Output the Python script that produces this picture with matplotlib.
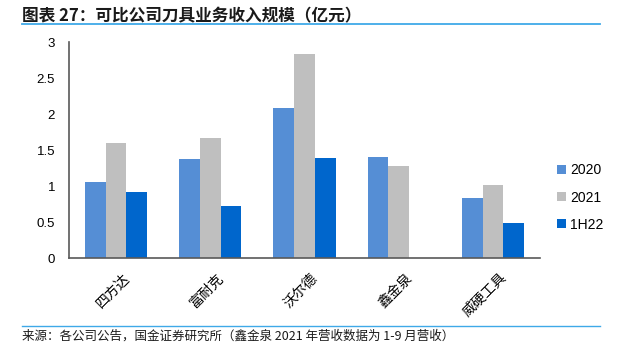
import numpy as np
import matplotlib.pyplot as plt
import matplotlib.transforms as mtransforms
from matplotlib.lines import Line2D

plt.rcParams['font.family'] = ['Noto Sans CJK SC', 'DejaVu Sans']

# 数据（亿元）
companies = ['四方达', '富耐克', '沃尔德', '鑫金泉', '威硬工具']
series_names = ['2020', '2021', '1H22']
rev_2020 = [1.05, 1.37, 2.09, 1.40, 0.83]
rev_2021 = [1.60, 1.67, 2.83, 1.28, 1.01]
rev_1h22 = [0.92, 0.73, 1.39, np.nan, 0.49]
colors = ['#558ED5', '#BFBFBF', '#0066CC']

fig = plt.figure(figsize=(6.19, 3.56), dpi=100)
ax = fig.add_axes([0.1115, 0.275, 0.761, 0.607])

x = np.arange(len(companies))
w = 0.22
for i, (vals, name) in enumerate(zip([rev_2020, rev_2021, rev_1h22], series_names)):
    ax.bar(x + (i - 1) * w, vals, width=w, color=colors[i], label=name)

ax.set_xlim(-0.5, len(companies) - 0.5)
ax.set_ylim(0, 3)
ax.set_yticks(np.arange(0, 3.01, 0.5))
ax.set_yticklabels(['0', '0.5', '1', '1.5', '2', '2.5', '3'], fontsize=9.5, family='Liberation Sans')
ax.set_xticks(x)
ax.set_xticklabels(companies, rotation=45, ha='right', rotation_mode='anchor', fontsize=10)
ax.tick_params(axis='y', length=0, pad=10)
ax.tick_params(axis='x', length=0, pad=9)
shift = mtransforms.ScaledTranslation(6 / 100, 0, fig.dpi_scale_trans)
for lbl in ax.get_xticklabels():
    lbl.set_transform(lbl.get_transform() + shift)
for s in ['top', 'right']:
    ax.spines[s].set_visible(False)
for s in ['left', 'bottom']:
    ax.spines[s].set_color('#595959')
    ax.spines[s].set_linewidth(1.2)

ax.legend(loc='center left', bbox_to_anchor=(1.01, 0.28), frameon=False,
          handlelength=0.6, handleheight=0.6, handletextpad=0.3, labelspacing=0.95,
          prop={'family': 'Liberation Sans', 'size': 10})

fig.text(0.035, 0.953, '图表 27：可比公司刀具业务收入规模（亿元）', fontsize=12,
         fontweight='bold', style='italic', color='#1a1a1a', va='center')
fig.add_artist(Line2D([0.035, 0.97], [0.932, 0.932], color='#3FA9E8', lw=1.3))
fig.add_artist(Line2D([0.035, 0.97], [0.084, 0.084], color='#3FA9E8', lw=1.0))
fig.text(0.035, 0.055, '来源：各公司公告，国金证券研究所（鑫金泉 2021 年营收数据为 1-9 月营收）',
         fontsize=9, color='#1a1a1a', va='center')

fig.savefig('out.png', dpi=100)
